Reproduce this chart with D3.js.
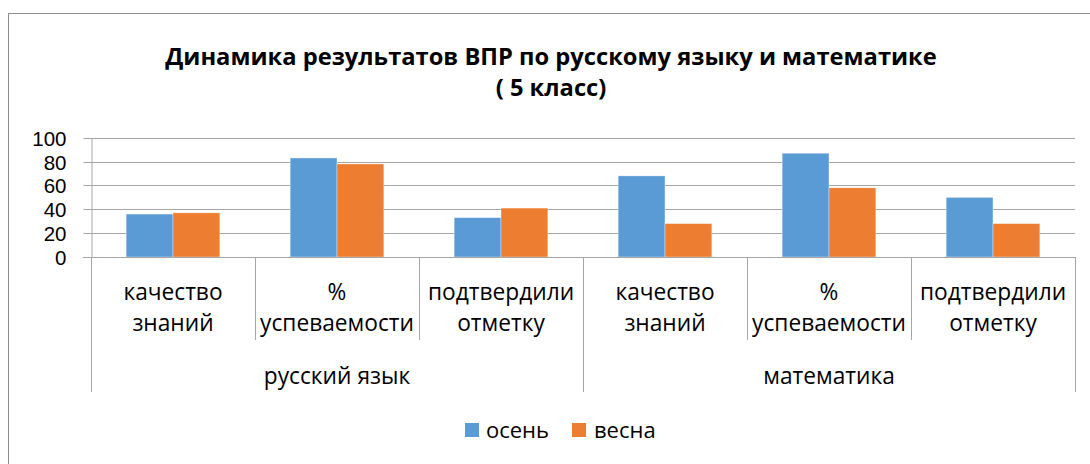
<!DOCTYPE html>
<html>
<head>
<meta charset="utf-8">
<script src="https://cdn.jsdelivr.net/npm/d3@7/dist/d3.min.js"></script>
<style>
  html, body { margin: 0; padding: 0; background: #fff; }
  svg { display: block; }
  text { font-family: "Open Sans", "Noto Sans", sans-serif; fill: #000; }
</style>
</head>
<body>
<svg id="chart" width="1090" height="464"></svg>
<script>
const titleLines = ["Динамика результатов ВПР по русскому языку и математике", "( 5 класс)"];
const groups = ["русский язык", "математика"];
const categories = [
  ["качество", "знаний"], ["%", "успеваемости"], ["подтвердили", "отметку"],
  ["качество", "знаний"], ["%", "успеваемости"], ["подтвердили", "отметку"]
];
const seriesNames = ["осень", "весна"];
const autumn = [36, 83, 33, 68, 87, 50];
const spring = [37, 78, 41, 28, 58, 28];
const yTicks = [0, 20, 40, 60, 80, 100];
const colors = ["#5B9BD5", "#ED7D31"];

const svg = d3.select("#chart");
const gridColor = "#A6A6A6";

function fit(sel, target) {
  const w = sel.node().getComputedTextLength();
  const fs = parseFloat(sel.attr("font-size"));
  sel.attr("font-size", fs * target / w);
  return fs * target / w;
}

// frame
svg.append("rect").attr("x", 8.5).attr("y", 13.5).attr("width", 1090).attr("height", 460)
  .attr("fill", "#fff").attr("stroke", "#8C8C8C").attr("stroke-width", 1);

// title
const t1 = svg.append("text").attr("x", 551).attr("y", 65).attr("text-anchor", "middle")
  .attr("font-weight", "bold").attr("font-size", 20).text(titleLines[0]);
const tfs = fit(t1, 772);
svg.append("text").attr("x", 551).attr("y", 96).attr("text-anchor", "middle")
  .attr("font-weight", "bold").attr("font-size", tfs).text(titleLines[1]);

const x0 = 91, x1 = 1075, yBase = 257, yTop = 137.7;
const idx = d3.range(categories.length);
const x = d3.scaleBand().domain(idx).range([x0, x1]).paddingInner(0).paddingOuter(0);
const xs = d3.scaleBand().domain(d3.range(seriesNames.length)).range([0, x.bandwidth()])
  .paddingInner(0).paddingOuter(0.75);
const y = d3.scaleLinear().domain([0, 100]).range([yBase, yTop]);

// gridlines
svg.append("g").selectAll("line").data(yTicks.filter(d => d > 0)).join("line")
  .attr("x1", x0).attr("x2", x1)
  .attr("y1", d => Math.round(y(d)) + 0.5).attr("y2", d => Math.round(y(d)) + 0.5)
  .attr("stroke", gridColor).attr("stroke-width", 1);

// y axis
const yAxis = svg.append("g").attr("transform", `translate(${x0 + 0.5},0)`)
  .call(d3.axisLeft(y).tickValues(yTicks).tickSize(8).tickSizeOuter(0));
yAxis.attr("font-size", null).attr("font-family", null);
yAxis.select(".domain").attr("stroke", gridColor);
yAxis.selectAll(".tick line").attr("stroke", gridColor);
yAxis.selectAll(".tick").attr("transform", d => `translate(0,${Math.round(y(d)) + 0.5})`);
yAxis.selectAll(".tick text").attr("x", -25).attr("dy", "0.36em")
  .style("font-family", '"Liberation Sans", Arial, sans-serif').attr("fill", "#000")
  .attr("font-size", 20.5);

// bars
const series = [autumn, spring];
series.forEach((vals, s) => {
  svg.append("g").selectAll("rect").data(vals).join("rect")
    .attr("x", (d, i) => x(i) + xs(s))
    .attr("width", xs.bandwidth())
    .attr("y", d => y(d))
    .attr("height", d => yBase - y(d))
    .attr("fill", colors[s])
    .attr("stroke", "#fff").attr("stroke-width", 0.6).attr("stroke-opacity", 0.6);
});

// x axis baseline
svg.append("line").attr("x1", x0 - 8).attr("x2", x1).attr("y1", yBase + 0.5).attr("y2", yBase + 0.5)
  .attr("stroke", gridColor);

// category dividers
const boundaries = d3.range(categories.length + 1).map(i => i < categories.length ? x(i) : x1);
svg.append("g").selectAll("line").data(boundaries).join("line")
  .attr("x1", d => Math.round(d) + 0.5).attr("x2", d => Math.round(d) + 0.5)
  .attr("y1", yBase)
  .attr("y2", (d, i) => (i % 3 === 0) ? 392 : 340)
  .attr("stroke", gridColor);

// category labels
const catG = svg.append("g");
const sample = catG.append("text").attr("font-size", 20).text("успеваемости");
const cfs = fit(sample, 154);
sample.remove();
categories.forEach((lines, i) => {
  const cx = x(i) + x.bandwidth() / 2;
  lines.forEach((ln, j) => {
    catG.append("text").attr("x", cx).attr("y", 300 + j * 31)
      .attr("text-anchor", "middle").attr("font-size", cfs).text(ln);
  });
});

// group labels
groups.forEach((g, i) => {
  const gx = (x(i * 3) + (i === groups.length - 1 ? x1 : x(i * 3 + 3))) / 2;
  svg.append("text").attr("x", gx).attr("y", 384).attr("text-anchor", "middle")
    .attr("font-size", cfs).text(g);
});

// legend
const legend = svg.append("g");
const legX = [465, 572];
seriesNames.forEach((n, i) => {
  legend.append("rect").attr("x", legX[i]).attr("y", 423).attr("width", 14).attr("height", 14)
    .attr("fill", colors[i]);
});
const lt = legend.append("text").attr("x", 486).attr("y", 438).attr("font-size", 20).text(seriesNames[0]);
const lfs = fit(lt, 63);
legend.append("text").attr("x", 594).attr("y", 438).attr("font-size", lfs).text(seriesNames[1]);
</script>
</body>
</html>
